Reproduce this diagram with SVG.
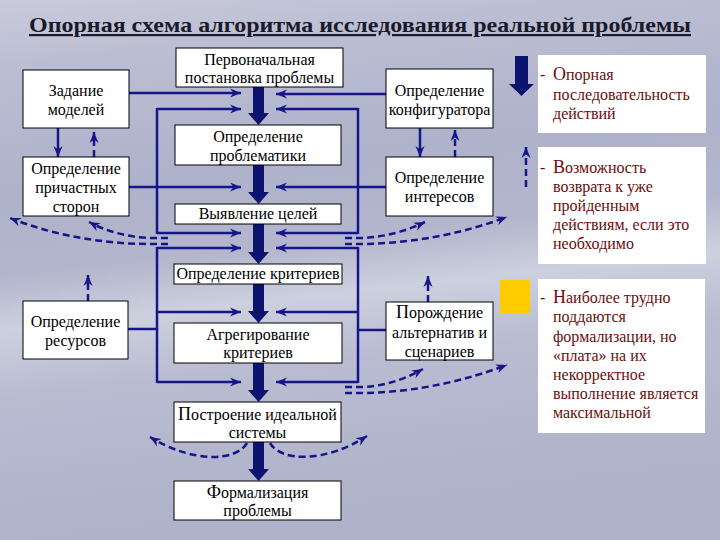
<svg xmlns="http://www.w3.org/2000/svg" width="720" height="540" viewBox="0 0 720 540">
<defs>
  <linearGradient id="bg" x1="0" y1="0" x2="0.15" y2="1">
    <stop offset="0" stop-color="#c9cbdb"/>
    <stop offset="0.12" stop-color="#bcbfd3"/>
    <stop offset="0.35" stop-color="#aeb2ca"/>
    <stop offset="0.5" stop-color="#b3b6cc"/>
    <stop offset="0.6" stop-color="#cdd0de"/>
    <stop offset="0.72" stop-color="#b9bcd1"/>
    <stop offset="1" stop-color="#aeb2ca"/>
  </linearGradient>
  <marker id="ah" markerUnits="userSpaceOnUse" markerWidth="12" markerHeight="10" refX="11" refY="5" orient="auto">
    <path d="M0,0.5 L11,5 L0,9.5 L3.5,5 z" fill="#16168a"/>
  </marker>
  <style>
    .box{fill:#ffffff;stroke:#000000;stroke-width:1}
    .panel{fill:#ffffff}
    .t{font-family:"Liberation Serif","Times New Roman",serif;font-size:16px;fill:#000000;text-anchor:middle}
    .lg{font-family:"Liberation Serif","Times New Roman",serif;font-size:16px;fill:#6e0c0c}
    .big{font-size:18px}
    .ln{fill:none;stroke:#16168a;stroke-width:2.5}
    .ar{marker-end:url(#ah)}
    .dash{fill:none;stroke:#16168a;stroke-width:2.5;stroke-dasharray:7 4;marker-end:url(#ah)}
    .fat{fill:#0c1470}
  </style>
</defs>
<rect width="720" height="540" fill="url(#bg)"/>

<text x="360" y="32" font-family="'Liberation Serif', 'Times New Roman', serif" font-size="22" font-weight="bold" fill="#1a1a2a" text-anchor="middle" text-decoration="underline" textLength="662" lengthAdjust="spacingAndGlyphs">Опорная схема алгоритма исследования реальной проблемы</text>

<g id="connectors">
  <polygon class="fat" points="253,87 264,87 264,113 269,113 258.5,125 248,113 253,113"/>
  <polygon class="fat" points="253,165 264,165 264,192 269,192 258.5,204 248,192 253,192"/>
  <polygon class="fat" points="253,224 264,224 264,252 269,252 258.5,264 248,252 253,252"/>
  <polygon class="fat" points="253,284 264,284 264,311 269,311 258.5,323 248,311 253,311"/>
  <polygon class="fat" points="253,363 264,363 264,390 269,390 258.5,402 248,390 253,390"/>
  <polygon class="fat" points="253,442 264,442 264,469 269,469 258.5,481 248,469 253,469"/>

  <path class="ln ar" d="M129,93 H241"/>
  <path class="ln ar" d="M157,109 H241"/>
  <path class="ln" d="M157,108 V234"/>
  <path class="ln ar" d="M129,187 H241"/>
  <path class="ln ar" d="M157,233 H241"/>
  <path class="ln ar" d="M157,248 H241"/>
  <path class="ln" d="M157,247 V383"/>
  <path class="ln ar" d="M157,312 H241"/>
  <path class="ln ar" d="M157,382 H241"/>
  <path class="ln" d="M128,329 H157"/>

  <path class="ln ar" d="M386,94 H276"/>
  <path class="ln ar" d="M358,109 H276"/>
  <path class="ln" d="M358,108 V234"/>
  <path class="ln ar" d="M386,187 H276"/>
  <path class="ln ar" d="M358,233 H276"/>
  <path class="ln ar" d="M358,248 H276"/>
  <path class="ln" d="M358,247 V383"/>
  <path class="ln ar" d="M358,312 H276"/>
  <path class="ln ar" d="M358,382 H276"/>
  <path class="ln" d="M386,330 H358"/>

  <path class="ln ar" d="M58,128 V157"/>
  <path class="dash" d="M94,157 V132"/>
  <path class="ln ar" d="M420,128 V157"/>
  <path class="dash" d="M455,157 V130"/>
  <path class="dash" d="M88,301 V275"/>
  <path class="dash" d="M428,302 V276"/>

  <path class="dash" d="M168,244 L150,244 C105,244 55,236 10,218"/>
  <path class="dash" d="M168,238 L150,238 C126,237 106,231 89,222"/>
  <path class="dash" d="M345,238 L362,238 C386,237 406,231 425,222"/>
  <path class="dash" d="M345,244 L362,244 C420,243 466,232 507,217"/>
  <path class="dash" d="M345,387 L362,387 C386,386 405,379 423,369"/>
  <path class="dash" d="M345,393 L362,393 C420,392 466,380 507,365"/>
  <path class="dash" d="M247,443 C236,462 192,463 150,437"/>
  <path class="dash" d="M270,443 C281,462 325,463 367,436"/>
</g>

<g id="n-zadanie">
  <rect class="box" x="23" y="70" width="106" height="58"/>
  <text class="t" x="76" y="96">Задание</text>
  <text class="t" x="76" y="115">моделей</text>
</g>
<g id="n-storony">
  <rect class="box" x="23" y="157" width="106" height="59"/>
  <text class="t" x="76" y="174">Определение</text>
  <text class="t" x="76" y="193">причастных</text>
  <text class="t" x="76" y="212">сторон</text>
</g>
<g id="n-postanovka">
  <rect class="box" x="176" y="48" width="167" height="39"/>
  <text class="t" x="259.5" y="65">Первоначальная</text>
  <text class="t" x="259.5" y="83">постановка проблемы</text>
</g>
<g id="n-problematika">
  <rect class="box" x="175" y="125" width="166" height="40"/>
  <text class="t" x="258" y="142">Определение</text>
  <text class="t" x="258" y="161">проблематики</text>
</g>
<g id="n-celi">
  <rect class="box" x="175" y="204" width="166" height="20"/>
  <text class="t" x="258" y="219">Выявление целей</text>
</g>
<g id="n-konfig">
  <rect class="box" x="386" y="69" width="107" height="59"/>
  <text class="t" x="439.5" y="96">Определение</text>
  <text class="t" x="439.5" y="115">конфигуратора</text>
</g>
<g id="n-interesy">
  <rect class="box" x="386" y="157" width="107" height="59"/>
  <text class="t" x="439.5" y="183">Определение</text>
  <text class="t" x="439.5" y="202">интересов</text>
</g>
<g id="n-kriterii">
  <rect class="box" x="174" y="264" width="168" height="20"/>
  <text class="t" x="258" y="279">Определение критериев</text>
</g>
<g id="n-resursy">
  <rect class="box" x="23" y="301" width="105" height="58"/>
  <text class="t" x="75.5" y="327">Определение</text>
  <text class="t" x="75.5" y="346">ресурсов</text>
</g>
<g id="n-agreg">
  <rect class="box" x="174" y="323" width="168" height="40"/>
  <text class="t" x="258" y="340">Агрегирование</text>
  <text class="t" x="258" y="358">критериев</text>
</g>
<g id="n-alternativy">
  <rect class="box" x="386" y="302" width="107" height="58"/>
  <text class="t" x="439.5" y="318"><tspan class="big">П</tspan>орождение</text>
  <text class="t" x="439.5" y="338">альтернатив и</text>
  <text class="t" x="439.5" y="357">сценариев</text>
</g>
<g id="n-idealnaya">
  <rect class="box" x="174" y="402" width="167" height="40"/>
  <text class="t" x="257.5" y="420"><tspan class="big">П</tspan>остроение идеальной</text>
  <text class="t" x="257.5" y="438">системы</text>
</g>
<g id="n-formalizaciya">
  <rect class="box" x="174" y="481" width="167" height="39"/>
  <text class="t" x="257.5" y="498"><tspan class="big">Ф</tspan>ормализация</text>
  <text class="t" x="257.5" y="516">проблемы</text>
</g>

<g id="legend-1">
  <polygon class="fat" points="515,56 528,56 528,84 534,84 521.5,96 509,84 515,84"/>
  <rect class="panel" x="538" y="55" width="168" height="78"/>
  <text class="lg" x="540" y="80">-<tspan x="553" class="big">О</tspan>порная</text>
  <text class="lg" x="553" y="100">последовательность</text>
  <text class="lg" x="553" y="119">действий</text>
</g>
<g id="legend-2">
  <path class="dash" d="M526,187 V147"/>
  <rect class="panel" x="538" y="147" width="168" height="117"/>
  <text class="lg" x="540" y="173">-<tspan x="553" class="big">В</tspan>озможность</text>
  <text class="lg" x="553" y="192">возврата к уже</text>
  <text class="lg" x="553" y="211">пройденным</text>
  <text class="lg" x="553" y="230">действиям, если это</text>
  <text class="lg" x="553" y="249">необходимо</text>
</g>
<g id="legend-3">
  <rect x="500" y="280" width="30" height="33" fill="#ffcc00"/>
  <rect class="panel" x="538" y="279" width="167" height="154"/>
  <text class="lg" x="540" y="303">-<tspan x="553" class="big">Н</tspan>аиболее трудно</text>
  <text class="lg" x="553" y="322">поддаются</text>
  <text class="lg" x="553" y="342">формализации, но</text>
  <text class="lg" x="553" y="361">«плата» на их</text>
  <text class="lg" x="553" y="380">некорректное</text>
  <text class="lg" x="553" y="399">выполнение является</text>
  <text class="lg" x="553" y="418">максимальной</text>
</g>
</svg>
